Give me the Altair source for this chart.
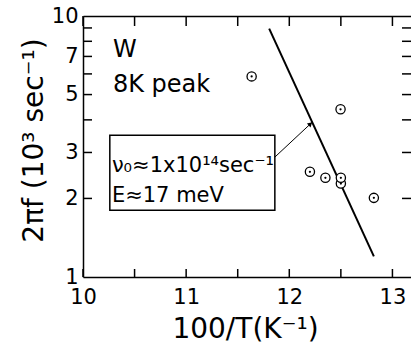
import altair as alt
import pandas as pd

# ---- data ----
inv_T = [11.635, 12.497, 12.20, 12.35, 12.50, 12.50, 12.82]      # 100/T (K^-1)
freq = [5.87, 4.39, 2.53, 2.40, 2.28, 2.40, 2.01]                # 2*pi*f (10^3 s^-1)

fit_x = [11.805, 12.82]
fit_y = [8.95, 1.20]

x_ticks = [10, 10.5, 11, 11.5, 12, 12.5, 13]
x_labels = [10, 11, 12, 13]
y_ticks = [2, 3, 4, 5, 6, 7, 8, 9]
y_labels = [1, 2, 3, 5, 7, 10]

big_text = ["W", "8K peak"]
big_x = [10.29, 10.29]
big_y = [6.95, 5.10]
box_text = ["ν₀≈1x10¹⁴sec⁻¹", "E≈17 meV"]
box_tx = [10.28, 10.28]
box_ty = [2.53, 1.94]

box_x = [10.26]; box_x2 = [11.86]; box_y = [3.49]; box_y2 = [1.80]
arrow_x = [11.86]; arrow_y = [2.88]; arrow_x2 = [12.226]; arrow_y2 = [3.93]
head_x = [12.205]; head_y = [3.86]

W, H = 328, 261
X0, X1 = 10, 13.18
Y0, Y1 = 1, 10
xs = alt.Scale(domain=[X0, X1], nice=False, zero=False)
ys = alt.Scale(type="log", domain=[Y0, Y1], nice=False)

# tick lengths (pixels) converted to data units
px_x = (X1 - X0) / W
fac_y = lambda px: 10 ** (px / H)

pts = pd.DataFrame({"x": inv_T, "y": freq})
fit = pd.DataFrame({"x": fit_x, "y": fit_y})
ann1 = pd.DataFrame({"x": big_x, "y": big_y, "t": big_text})
ann2 = pd.DataFrame({"x": box_tx, "y": box_ty, "t": box_text})
box = pd.DataFrame({"x": box_x, "x2": box_x2, "y": box_y, "y2": box_y2})
arrow = pd.DataFrame({"x": arrow_x, "x2": arrow_x2, "y": arrow_y, "y2": arrow_y2})
head = pd.DataFrame({"x": head_x, "y": head_y})

nx, ny = len(x_ticks), len(y_ticks)
tb = pd.DataFrame({"x": x_ticks, "x2": x_ticks, "y": [Y0] * nx, "y2": [Y0 * fac_y(8)] * nx})
tt = pd.DataFrame({"x": x_ticks, "x2": x_ticks, "y": [Y1] * nx, "y2": [Y1 / fac_y(10)] * nx})
tl = pd.DataFrame({"x": [X0] * ny, "x2": [X0 + 9 * px_x] * ny, "y": y_ticks, "y2": y_ticks})
tr = pd.DataFrame({"x": [X1 - 9 * px_x] * ny, "x2": [X1] * ny, "y": y_ticks, "y2": y_ticks})
ticks_df = pd.concat([tb, tt, tl, tr], ignore_index=True)

common = dict(domainColor="black", domainWidth=1.5, labelColor="black",
              titleColor="black")

ticks = alt.Chart(ticks_df).mark_rule(color="black", strokeWidth=1.5).encode(
    x=alt.X("x:Q", scale=xs, axis=None), x2="x2:Q",
    y=alt.Y("y:Q", scale=ys, axis=None), y2="y2:Q",
)

# frame (bottom/left), labels, titles
line = alt.Chart(fit).mark_line(color="black", strokeWidth=2).encode(
    x=alt.X("x:Q", scale=xs, axis=alt.Axis(
        orient="bottom", values=x_labels, ticks=False, domain=True, grid=False,
        format="d", labelPadding=9, labelFontSize=21, labelFlush=False,
        labelOverlap=False, labelFont="DejaVu Sans",
        title="100/T(K⁻¹)", titleFontSize=28, titleFontWeight="normal",
        titleFont="DejaVu Sans", titleX=162, titleY=60, titleAlign="center",
        titleBaseline="alphabetic", **common)),
    y=alt.Y("y:Q", scale=ys, axis=alt.Axis(
        orient="left", values=y_labels, ticks=False, domain=True, grid=False,
        format="d", labelPadding=5, labelFontSize=21, labelFlush=False,
        labelOverlap=False, labelFont="DejaVu Sans",
        title="2πf (10³ sec⁻¹)", titleFontSize=28, titleFontWeight="normal",
        titleFont="DejaVu Sans", titleAngle=270, titleX=-41, titleY=124,
        titleAlign="center", titleBaseline="alphabetic", **common)),
)

# open circles (white filled) carrying the top frame line
circles = alt.Chart(pts).mark_point(shape="circle", size=85, filled=True,
                                    color="white", opacity=1,
                                    stroke="black", strokeWidth=1.3).encode(
    x=alt.X("x:Q", scale=xs, axis=alt.Axis(
        orient="top", values=x_ticks, ticks=False, labels=False, domain=True,
        title=None, grid=False, **common)),
    y=alt.Y("y:Q", scale=ys, axis=None),
)

dots = alt.Chart(pts).mark_point(shape="circle", size=5, filled=True,
                                 color="black", opacity=1).encode(
    x=alt.X("x:Q", scale=xs, axis=None),
    y=alt.Y("y:Q", scale=ys, axis=None),
)

texts1 = alt.Chart(ann1).mark_text(align="left", baseline="alphabetic",
                                   font="DejaVu Sans", fontSize=24,
                                   color="black").encode(
    x=alt.X("x:Q", scale=xs, axis=None),
    y=alt.Y("y:Q", scale=ys, axis=None),
    text="t:N",
)
texts2 = alt.Chart(ann2).mark_text(align="left", baseline="alphabetic",
                                   font="DejaVu Sans", fontSize=21,
                                   color="black").encode(
    x=alt.X("x:Q", scale=xs, axis=None),
    y=alt.Y("y:Q", scale=ys, axis=None),
    text="t:N",
)

rect = alt.Chart(box).mark_rect(fill="white", fillOpacity=0, stroke="black",
                                strokeWidth=1.5).encode(
    x=alt.X("x:Q", scale=xs, axis=None), x2="x2:Q",
    y=alt.Y("y:Q", scale=ys, axis=None), y2="y2:Q",
)

arr = alt.Chart(arrow).mark_rule(color="black", strokeWidth=1).encode(
    x=alt.X("x:Q", scale=xs, axis=None), x2="x2:Q",
    y=alt.Y("y:Q", scale=ys, axis=None), y2="y2:Q",
)

arrhead = alt.Chart(head).mark_point(shape="triangle-up", size=28, filled=True,
                                     color="black", opacity=1, angle=47).encode(
    x=alt.X("x:Q", scale=xs, axis=None),
    y=alt.Y("y:Q", scale=ys, axis=None),
)

chart = alt.layer(ticks, line, circles, dots,
                  rect, arr, arrhead, texts1, texts2).resolve_axis(
    x="independent", y="independent"
).properties(
    width=W, height=H,
    autosize=alt.AutoSizeParams(type="none"),
    padding={"left": 83, "top": 16, "right": 0, "bottom": 68},
    background="white",
).configure_view(stroke=None)

chart.save("out.html", embed_options={"renderer": "svg", "actions": False})
